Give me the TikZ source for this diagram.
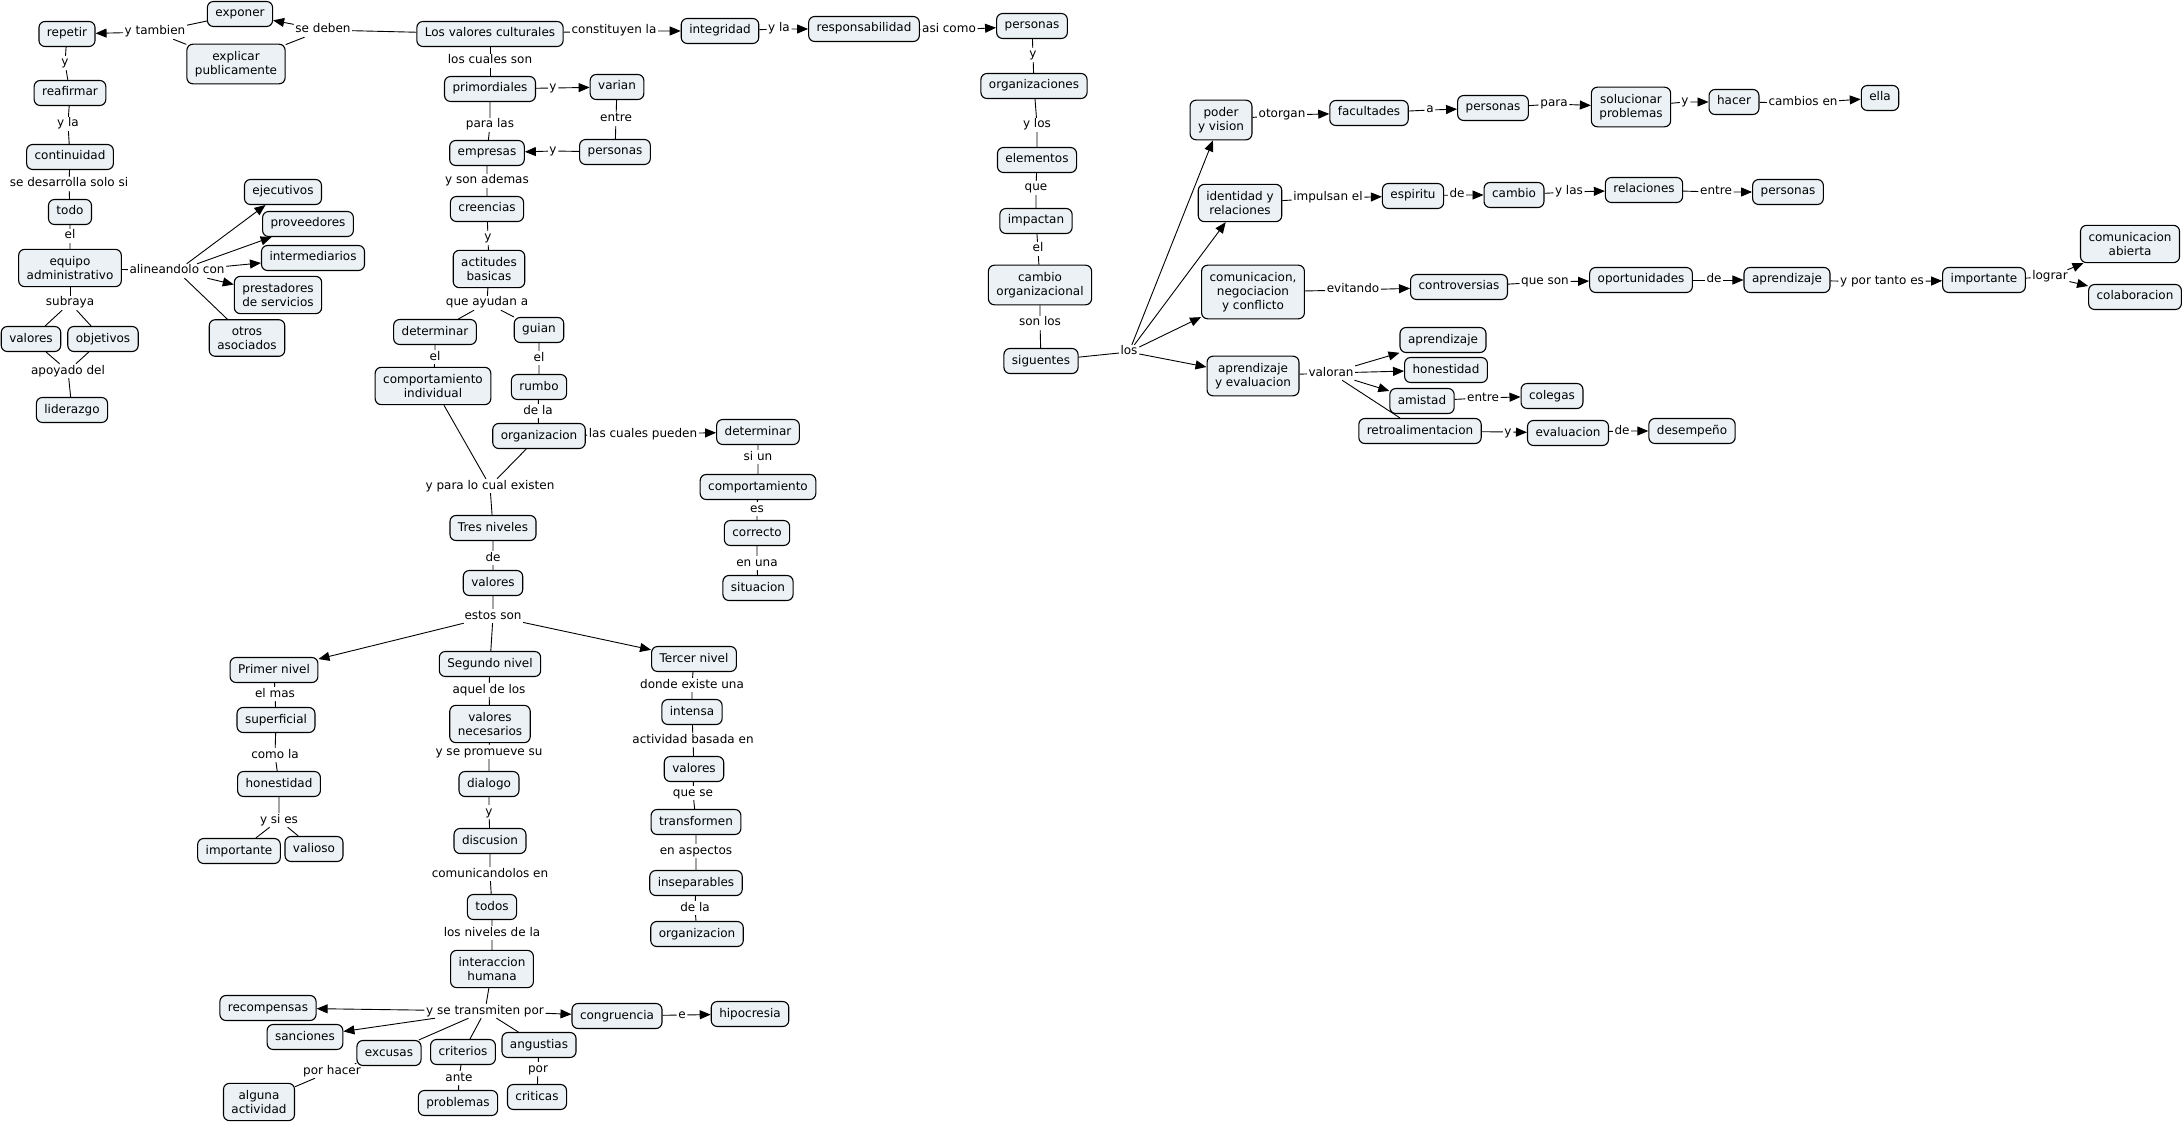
\documentclass[tikz,border=0pt]{standalone}
\usepackage{fontspec}
\setmainfont{DejaVu Sans}
\usetikzlibrary{arrows.meta}
\definecolor{conceptfill}{HTML}{EBF1F4}
\newcommand{\mapfont}{\fontsize{12}{14}\selectfont}

\begin{document}
\begin{tikzpicture}[x=1pt, y=-1pt,
  concept/.style={draw, rounded corners=6pt, fill=conceptfill, line width=1.1pt,
    inner xsep=8pt, inner ysep=6.5pt, text height=9pt, text depth=3pt,
    align=center, font=\mapfont},
  mline/.style={concept, text height={}, text depth={}, inner ysep=7pt},
  linkword/.style={inner sep=1.5pt, text height=8.5pt, text depth=2.5pt, font=\mapfont},
  conn/.style={line width=0.9pt},
  connarr/.style={conn, -{Triangle[length=11pt,width=9pt]}}]
\useasboundingbox (0,0) rectangle (2182,1123);

% ====================
% Left cluster: repetir, reafirmar, equipo administrativo
\node[concept] (rep) at (67,34) {repetir};
\node[concept] (expo) at (240,14) {exponer};
\node[mline] (expl) at (236,64) {explicar\\publicamente};
\node[concept] (reaf) at (70,93) {reafirmar};
\node[concept] (cont) at (70,157) {continuidad};
\node[concept] (todo) at (70,212) {todo};
\node[mline] (equipo) at (70,268) {equipo\\administrativo};
\node[concept] (ejec) at (283,192) {ejecutivos};
\node[concept] (prov) at (308,224) {proveedores};
\node[concept] (inter) at (313,258) {intermediarios};
\node[mline] (prest) at (278,295) {prestadores\\de servicios};
\node[mline] (otros) at (247,338) {otros\\asociados};
\node[concept] (valL) at (31,339) {valores};
\node[concept] (obj) at (103,339) {objetivos};
\node[concept] (lid) at (72,410) {liderazgo};
\node[linkword] (ltamb) at (155,32) {y tambien};
\node[linkword] (ldeben) at (323,30) {se deben};
\node[linkword] (ly1) at (65,63) {y};
\node[linkword] (lyla1) at (68,124) {y la};
\node[linkword] (lsedes) at (69,184) {se desarrolla solo si};
\node[linkword] (lel1) at (70,236) {el};
\node[linkword] (lalin) at (177,271) {alineandolo con};
\node[linkword] (lsubr) at (70,303) {subraya};
\node[linkword] (lapoy) at (68,371) {apoyado del};

% ====================
% Central column: Los valores culturales down to organizacion
\node[concept] (lvc) at (490,34) {Los valores culturales};
\node[concept] (prim) at (490,89) {primordiales};
\node[concept] (var) at (617,87) {varian};
\node[concept] (persM) at (615,152) {personas};
\node[concept] (emp) at (487,153) {empresas};
\node[concept] (cree) at (487,209) {creencias};
\node[mline] (act) at (489,269) {actitudes\\basicas};
\node[concept] (detL) at (435,332) {determinar};
\node[concept] (guian) at (539,330) {guian};
\node[mline] (compI) at (433,386) {comportamiento\\individual};
\node[concept] (rumbo) at (539,387) {rumbo};
\node[concept] (orgM) at (539,436) {organizacion};
\node[concept] (detR) at (758,432) {determinar};
\node[concept] (compR) at (758,487) {comportamiento};
\node[concept] (corr) at (757,533) {correcto};
\node[concept] (sit) at (758,588) {situacion};
\node[linkword] (lcual) at (490,61) {los cuales son};
\node[linkword] (ly2) at (553,88) {y};
\node[linkword] (lentre1) at (616,119) {entre};
\node[linkword] (ly3) at (553,151) {y};
\node[linkword] (lpara) at (490,125) {para las};
\node[linkword] (lsonad) at (487,181) {y son ademas};
\node[linkword] (ly4) at (488,238) {y};
\node[linkword] (layud) at (487,303) {que ayudan a};
\node[linkword] (lel2) at (435,357) {el};
\node[linkword] (lel3) at (539,358) {el};
\node[linkword] (ldela1) at (538,411) {de la};
\node[linkword] (lcualp) at (643,434) {las cuales pueden};
\node[linkword] (lsiun) at (758,457) {si un};
\node[linkword] (les) at (757,509) {es};
\node[linkword] (lenuna) at (757,563) {en una};

% ====================
% Tres niveles de valores
\node[concept] (tres) at (493,528) {Tres niveles};
\node[concept] (valC) at (493,583) {valores};
\node[concept] (pri) at (274,670) {Primer nivel};
\node[concept] (seg) at (490,664) {Segundo nivel};
\node[concept] (ter) at (694,659) {Tercer nivel};
\node[linkword] (lexist) at (490,486) {y para lo cual existen};
\node[linkword] (lde1) at (493,558) {de};
\node[linkword] (lestos) at (493,616) {estos son};

% Primer nivel
\node[concept] (sup) at (276,720) {superficial};
\node[concept] (honL) at (279,784) {honestidad};
\node[concept] (impL) at (239,851) {importante};
\node[concept] (vali) at (314,849) {valioso};
\node[linkword] (lmas) at (275,694) {el mas};
\node[linkword] (lcomo) at (275,755) {como la};
\node[linkword] (lsies) at (279,820) {y si es};

% Segundo nivel
\node[mline] (vnec) at (490,724) {valores\\necesarios};
\node[concept] (dial) at (489,784) {dialogo};
\node[concept] (disc) at (490,841) {discusion};
\node[concept] (todos) at (492,907) {todos};
\node[mline] (intH) at (492,969) {interaccion\\humana};
\node[concept] (recom) at (268,1008) {recompensas};
\node[concept] (sanc) at (305,1037) {sanciones};
\node[concept] (exc) at (389,1053) {excusas};
\node[concept] (crit) at (463,1052) {criterios};
\node[concept] (ang) at (539,1045) {angustias};
\node[mline] (alg) at (259,1102) {alguna\\actividad};
\node[concept] (prob) at (458,1103) {problemas};
\node[concept] (crits) at (537,1097) {criticas};
\node[concept] (congr) at (617,1016) {congruencia};
\node[concept] (hipo) at (750,1014) {hipocresia};
\node[linkword] (laquel) at (489,690) {aquel de los};
\node[linkword] (lprom) at (489,752) {y se promueve su};
\node[linkword] (ly5) at (489,812) {y};
\node[linkword] (lcomu) at (490,874) {comunicandolos en};
\node[linkword] (lniv) at (492,933) {los niveles de la};
\node[linkword] (ltrans) at (485,1011) {y se transmiten por};
\node[linkword] (lporh) at (332,1071) {por hacer};
\node[linkword] (lante) at (459,1078) {ante};
\node[linkword] (lpor) at (538,1069) {por};
\node[linkword] (le) at (682,1015) {e};

% Tercer nivel
\node[concept] (intn) at (692,712) {intensa};
\node[concept] (valR) at (694,769) {valores};
\node[concept] (trans) at (696,822) {transformen};
\node[concept] (insep) at (696,883) {inseparables};
\node[concept] (orgB) at (697,934) {organizacion};
\node[linkword] (ldonde) at (692,685) {donde existe una};
\node[linkword] (lbasada) at (693,740) {actividad basada en};
\node[linkword] (lquese) at (693,793) {que se};
\node[linkword] (lasp) at (696,851) {en aspectos};
\node[linkword] (ldela2) at (695,908) {de la};

% ====================
% Top chain to cambio organizacional
\node[concept] (integ) at (720,31) {integridad};
\node[concept] (resp) at (864,29) {responsabilidad};
\node[concept] (persT) at (1032,26) {personas};
\node[concept] (orgs) at (1034,86) {organizaciones};
\node[concept] (elem) at (1037,160) {elementos};
\node[concept] (impa) at (1036,221) {impactan};
\node[mline] (cambO) at (1040,285) {cambio\\organizacional};
\node[concept] (sig) at (1041,361) {siguentes};
\node[linkword] (lcons) at (614,31) {constituyen la};
\node[linkword] (lyla2) at (779,29) {y la};
\node[linkword] (lasi) at (949,30) {asi como};
\node[linkword] (ly6) at (1033,55) {y};
\node[linkword] (lylos) at (1037,125) {y los};
\node[linkword] (lque) at (1036,188) {que};
\node[linkword] (lel4) at (1038,249) {el};
\node[linkword] (lsonl) at (1040,323) {son los};
\node[linkword] (llos) at (1129,352) {los};

% ====================
% Right side: the four branches
\node[mline] (poder) at (1221,120) {poder\\y vision};
\node[concept] (facu) at (1369,113) {facultades};
\node[concept] (persF) at (1493,108) {personas};
\node[mline] (solu) at (1631,107) {solucionar\\problemas};
\node[concept] (hacer) at (1734,102) {hacer};
\node[concept] (ella) at (1880,98) {ella};
\node[linkword] (lotor) at (1282,115) {otorgan};
\node[linkword] (la) at (1430,110) {a};
\node[linkword] (lpara2) at (1554,104) {para};
\node[linkword] (ly7) at (1685,102) {y};
\node[linkword] (lcamb) at (1803,103) {cambios en};

\node[mline] (ident) at (1240,203) {identidad y\\relaciones};
\node[concept] (espir) at (1413,196) {espiritu};
\node[concept] (camb) at (1514,195) {cambio};
\node[concept] (relac) at (1644,190) {relaciones};
\node[concept] (persR) at (1788,192) {personas};
\node[linkword] (limpul) at (1328,198) {impulsan el};
\node[linkword] (lde2) at (1457,195) {de};
\node[linkword] (lylas) at (1569,192) {y las};
\node[linkword] (lentre2) at (1716,192) {entre};

\node[mline] (comneg) at (1253,292) {comunicacion,\\negociacion\\y conflicto};
\node[concept] (contr) at (1459,287) {controversias};
\node[concept] (oport) at (1641,280) {oportunidades};
\node[concept] (aprR) at (1787,280) {aprendizaje};
\node[concept] (impR) at (1984,280) {importante};
\node[mline] (comab) at (2130,244) {comunicacion\\abierta};
\node[concept] (colab) at (2135,297) {colaboracion};
\node[linkword] (levit) at (1353,290) {evitando};
\node[linkword] (lqueson) at (1545,282) {que son};
\node[linkword] (lde3) at (1714,280) {de};
\node[linkword] (lportanto) at (1882,282) {y por tanto es};
\node[linkword] (llograr) at (2050,277) {lograr};

\node[mline] (apreva) at (1253,376) {aprendizaje\\y evaluacion};
\node[concept] (aprS) at (1443,340) {aprendizaje};
\node[concept] (honR) at (1446,370) {honestidad};
\node[concept] (amis) at (1422,401) {amistad};
\node[concept] (coleg) at (1552,396) {colegas};
\node[concept] (retro) at (1420,431) {retroalimentacion};
\node[concept] (evalu) at (1568,433) {evaluacion};
\node[concept] (desem) at (1692,431) {desempeño};
\node[linkword] (lvalor) at (1331,373) {valoran};
\node[linkword] (lentre3) at (1483,398) {entre};
\node[linkword] (ly8) at (1508,432) {y};
\node[linkword] (lde4) at (1622,431) {de};

% ====================
% Connectors
\draw[conn] (lvc) -- (ldeben);
\draw[connarr] (ldeben) -- (expo);
\draw[conn] (ldeben) -- (expl);
\draw[conn] (expo) -- (ltamb);
\draw[conn] (expl) -- (ltamb);
\draw[connarr] (ltamb) -- (rep);
\draw[conn] (rep) -- (ly1) -- (reaf) -- (lyla1) -- (cont) -- (lsedes) -- (todo) -- (lel1) -- (equipo);
\draw[conn] (equipo) -- (lalin);
\draw[connarr] (lalin) -- (ejec);
\draw[connarr] (lalin) -- (prov);
\draw[connarr] (lalin) -- (inter);
\draw[connarr] (lalin) -- (prest);
\draw[conn] (lalin) -- (otros);
\draw[conn] (equipo) -- (lsubr);
\draw[conn] (lsubr) -- (valL);
\draw[conn] (lsubr) -- (obj);
\draw[conn] (valL) -- (lapoy);
\draw[conn] (obj) -- (lapoy);
\draw[conn] (lapoy) -- (lid);

\draw[conn] (lvc) -- (lcual) -- (prim);
\draw[connarr] (prim) -- (ly2) -- (var);
\draw[conn] (var) -- (lentre1) -- (persM);
\draw[connarr] (persM) -- (ly3) -- (emp);
\draw[conn] (prim) -- (lpara) -- (emp) -- (lsonad) -- (cree) -- (ly4) -- (act) -- (layud);
\draw[conn] (layud) -- (detL) -- (lel2) -- (compI);
\draw[conn] (layud) -- (guian) -- (lel3) -- (rumbo) -- (ldela1) -- (orgM);
\draw[connarr] (orgM) -- (lcualp) -- (detR);
\draw[conn] (detR) -- (lsiun) -- (compR) -- (les) -- (corr) -- (lenuna) -- (sit);
\draw[conn] (compI) -- (lexist);
\draw[conn] (orgM) -- (lexist);
\draw[conn] (lexist) -- (tres) -- (lde1) -- (valC) -- (lestos);
\draw[connarr] (lestos) -- (pri);
\draw[conn] (lestos) -- (seg);
\draw[connarr] (lestos) -- (ter);

\draw[conn] (pri) -- (lmas) -- (sup) -- (lcomo) -- (honL) -- (lsies);
\draw[conn] (lsies) -- (impL);
\draw[conn] (lsies) -- (vali);

\draw[conn] (seg) -- (laquel) -- (vnec) -- (lprom) -- (dial) -- (ly5) -- (disc) -- (lcomu) -- (todos) -- (lniv) -- (intH) -- (ltrans);
\draw[connarr] (ltrans) -- (recom);
\draw[connarr] (ltrans) -- (sanc);
\draw[conn] (ltrans) -- (exc);
\draw[conn] (ltrans) -- (crit);
\draw[conn] (ltrans) -- (ang);
\draw[connarr] (ltrans) -- (congr);
\draw[connarr] (congr) -- (le) -- (hipo);
\draw[conn] (exc) -- (lporh) -- (alg);
\draw[conn] (crit) -- (lante) -- (prob);
\draw[conn] (ang) -- (lpor) -- (crits);

\draw[conn] (ter) -- (ldonde) -- (intn) -- (lbasada) -- (valR) -- (lquese) -- (trans) -- (lasp) -- (insep) -- (ldela2) -- (orgB);

\draw[connarr] (lvc) -- (lcons) -- (integ);
\draw[connarr] (integ) -- (lyla2) -- (resp);
\draw[connarr] (resp) -- (lasi) -- (persT);
\draw[conn] (persT) -- (ly6) -- (orgs) -- (lylos) -- (elem) -- (lque) -- (impa) -- (lel4) -- (cambO) -- (lsonl) -- (sig) -- (llos);
\draw[connarr] (llos) -- (poder);
\draw[connarr] (llos) -- (ident);
\draw[connarr] (llos) -- (comneg);
\draw[connarr] (llos) -- (apreva);

\draw[connarr] (poder) -- (lotor) -- (facu);
\draw[connarr] (facu) -- (la) -- (persF);
\draw[connarr] (persF) -- (lpara2) -- (solu);
\draw[connarr] (solu) -- (ly7) -- (hacer);
\draw[connarr] (hacer) -- (lcamb) -- (ella);

\draw[connarr] (ident) -- (limpul) -- (espir);
\draw[connarr] (espir) -- (lde2) -- (camb);
\draw[connarr] (camb) -- (lylas) -- (relac);
\draw[connarr] (relac) -- (lentre2) -- (persR);

\draw[connarr] (comneg) -- (levit) -- (contr);
\draw[connarr] (contr) -- (lqueson) -- (oport);
\draw[connarr] (oport) -- (lde3) -- (aprR);
\draw[connarr] (aprR) -- (lportanto) -- (impR);
\draw[conn] (impR) -- (llograr);
\draw[connarr] (llograr) -- (comab);
\draw[connarr] (llograr) -- (colab);

\draw[conn] (apreva) -- (lvalor);
\draw[connarr] (lvalor) -- (aprS);
\draw[connarr] (lvalor) -- (honR);
\draw[connarr] (lvalor) -- (amis);
\draw[conn] (lvalor) -- (retro);
\draw[connarr] (amis) -- (lentre3) -- (coleg);
\draw[connarr] (retro) -- (ly8) -- (evalu);
\draw[connarr] (evalu) -- (lde4) -- (desem);
\end{tikzpicture}
\end{document}
